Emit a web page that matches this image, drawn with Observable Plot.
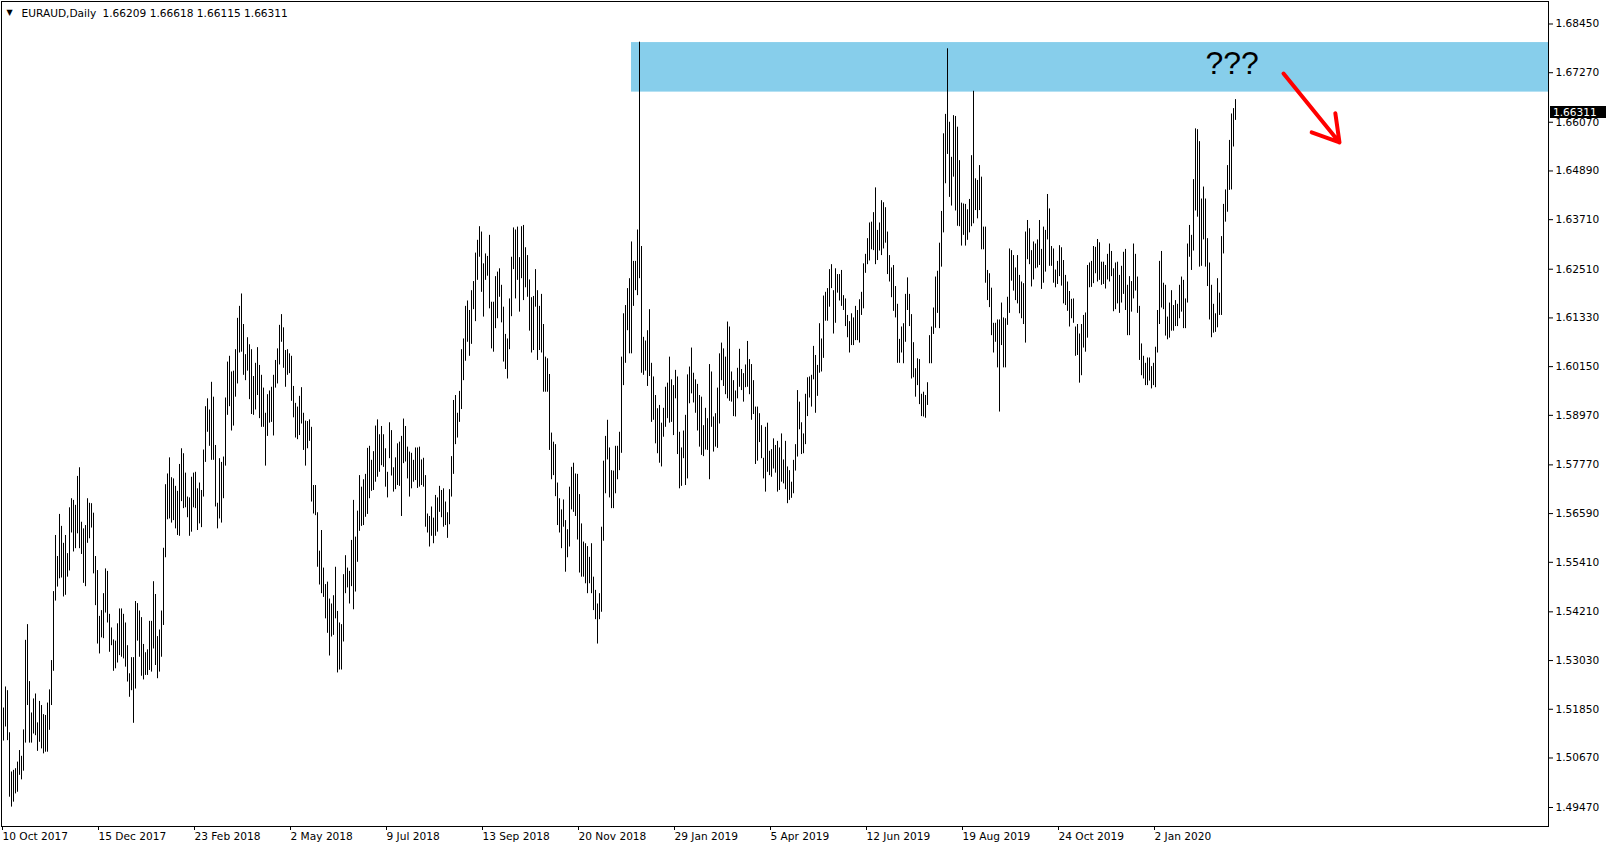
<!DOCTYPE html>
<html><head><meta charset="utf-8">
<script src="https://cdn.jsdelivr.net/npm/d3@7"></script>
<script src="https://cdn.jsdelivr.net/npm/@observablehq/plot@0.6"></script>
<style>
html,body{margin:0;padding:0;background:#fff;}
#chart{position:relative;width:1612px;height:850px;overflow:hidden;}
</style></head><body><div id="chart"></div>
<script>
// ---------- data ----------
const symbolLabel = "EURAUD,Daily";
const lastBarOHLC = [1.66209, 1.66618, 1.66115, 1.66311];

const high = [
1.5188,1.5239,1.5230,1.5128,1.5033,1.5037,1.5041,1.5057,1.5085,1.5071,
1.5135,1.5352,1.5390,1.5252,1.5176,1.5210,1.5222,1.5152,1.5204,1.5194,
1.5172,1.5170,1.5200,1.5232,1.5303,1.5470,1.5606,1.5555,1.5657,1.5628,
1.5587,1.5606,1.5562,1.5673,1.5695,1.5691,1.5679,1.5749,1.5770,1.5638,
1.5622,1.5630,1.5695,1.5684,1.5683,1.5660,1.5555,1.5521,1.5410,1.5424,
1.5465,1.5525,1.5519,1.5415,1.5382,1.5353,1.5350,1.5392,1.5428,1.5428,
1.5415,1.5394,1.5339,1.5271,1.5310,1.5310,1.5446,1.5441,1.5423,1.5407,
1.5342,1.5322,1.5329,1.5398,1.5398,1.5494,1.5463,1.5361,1.5377,1.5423,
1.5575,1.5729,1.5755,1.5794,1.5746,1.5743,1.5725,1.5713,1.5778,1.5816,
1.5804,1.5757,1.5699,1.5697,1.5747,1.5757,1.5759,1.5719,1.5733,1.5715,
1.5813,1.5918,1.5937,1.5910,1.5977,1.5941,1.5824,1.5684,1.5792,1.5783,
1.5796,1.5939,1.6026,1.6040,1.6002,1.6004,1.6056,1.6132,1.6161,1.6191,
1.6117,1.6044,1.6085,1.6068,1.6056,1.5991,1.6023,1.6061,1.6018,1.5994,
1.5963,1.5902,1.5947,1.5956,1.5965,1.5994,1.6030,1.6058,1.6115,1.6141,
1.6109,1.6054,1.6056,1.6046,1.6040,1.5967,1.5926,1.5917,1.5943,1.5964,
1.5902,1.5883,1.5882,1.5886,1.5868,1.5727,1.5727,1.5661,1.5568,1.5618,
1.5527,1.5487,1.5493,1.5452,1.5440,1.5460,1.5529,1.5422,1.5394,1.5390,
1.5511,1.5557,1.5527,1.5519,1.5594,1.5691,1.5602,1.5665,1.5751,1.5723,
1.5741,1.5754,1.5817,1.5822,1.5788,1.5809,1.5871,1.5886,1.5850,1.5870,
1.5850,1.5816,1.5759,1.5879,1.5860,1.5770,1.5794,1.5828,1.5832,1.5846,
1.5888,1.5870,1.5820,1.5808,1.5805,1.5788,1.5818,1.5818,1.5820,1.5789,
1.5793,1.5751,1.5658,1.5652,1.5675,1.5648,1.5703,1.5697,1.5725,1.5715,
1.5719,1.5687,1.5661,1.5717,1.5797,1.5933,1.5945,1.5902,1.5955,1.6056,
1.6082,1.6161,1.6174,1.6151,1.6199,1.6221,1.6290,1.6321,1.6354,1.6341,
1.6264,1.6288,1.6282,1.6333,1.6171,1.6171,1.6233,1.6244,1.6252,1.6212,
1.6159,1.6093,1.6082,1.6179,1.6280,1.6351,1.6346,1.6353,1.6279,1.6354,
1.6357,1.6303,1.6284,1.6225,1.6182,1.6185,1.6250,1.6199,1.6161,1.6190,
1.6117,1.6038,1.6034,1.5996,1.5854,1.5832,1.5826,1.5733,1.5695,1.5668,
1.5692,1.5642,1.5620,1.5723,1.5771,1.5781,1.5755,1.5754,1.5705,1.5634,
1.5590,1.5586,1.5579,1.5553,1.5586,1.5505,1.5473,1.5440,1.5465,1.5626,
1.5786,1.5846,1.5885,1.5818,1.5763,1.5762,1.5822,1.5822,1.5856,1.6038,
1.6143,1.6163,1.6204,1.6228,1.6317,1.6270,1.6270,1.6346,1.6801,1.6306,
1.6086,1.6077,1.6102,1.6153,1.6023,1.5990,1.5945,1.5913,1.5921,1.5878,
1.5914,1.5965,1.5975,1.6038,1.5983,1.5969,1.6006,1.5990,1.5856,1.5818,
1.5859,1.5897,1.5995,1.6014,1.6060,1.5999,1.5983,1.5972,1.5945,1.5941,
1.5872,1.5914,1.5889,1.6020,1.6002,1.5893,1.5901,1.5963,1.6046,1.6072,
1.6058,1.6038,1.6123,1.6111,1.6002,1.5981,1.5956,1.6011,1.6057,1.6008,
1.5998,1.6019,1.6076,1.6032,1.6020,1.5981,1.5917,1.5917,1.5901,1.5872,
1.5793,1.5868,1.5878,1.5810,1.5814,1.5840,1.5824,1.5834,1.5818,1.5852,
1.5789,1.5834,1.5772,1.5763,1.5735,1.5788,1.5826,1.5957,1.5929,1.5879,
1.5852,1.5948,1.5988,1.5990,1.5994,1.6064,1.6042,1.6018,1.6119,1.6082,
1.6186,1.6195,1.6204,1.6250,1.6262,1.6199,1.6252,1.6238,1.6238,1.6248,
1.6187,1.6179,1.6139,1.6124,1.6143,1.6133,1.6161,1.6151,1.6177,1.6195,
1.6264,1.6287,1.6325,1.6363,1.6365,1.6388,1.6448,1.6345,1.6363,1.6417,
1.6412,1.6400,1.6341,1.6284,1.6254,1.6260,1.6209,1.6166,1.6081,1.6111,
1.6119,1.6190,1.6230,1.6190,1.6141,1.6073,1.6010,1.6034,1.6032,1.5948,
1.5953,1.5945,1.5976,1.6090,1.6111,1.6157,1.6232,1.6246,1.6314,1.6391,
1.6579,1.6626,1.6785,1.6607,1.6522,1.6623,1.6621,1.6595,1.6514,1.6411,
1.6409,1.6408,1.6395,1.6420,1.6526,1.6682,1.6470,1.6466,1.6502,1.6474,
1.6353,1.6353,1.6248,1.6240,1.6205,1.6120,1.6120,1.6128,1.6128,1.6169,
1.6133,1.6131,1.6183,1.6300,1.6296,1.6284,1.6254,1.6284,1.6236,1.6220,
1.6216,1.6341,1.6369,1.6349,1.6296,1.6317,1.6312,1.6322,1.6369,1.6299,
1.6353,1.6345,1.6432,1.6397,1.6306,1.6300,1.6249,1.6270,1.6308,1.6303,
1.6272,1.6236,1.6220,1.6197,1.6178,1.6179,1.6111,1.6117,1.6094,1.6117,
1.6139,1.6145,1.6260,1.6266,1.6270,1.6306,1.6304,1.6323,1.6315,1.6268,
1.6268,1.6260,1.6287,1.6312,1.6294,1.6252,1.6266,1.6268,1.6236,1.6258,
1.6292,1.6299,1.6212,1.6233,1.6221,1.6312,1.6287,1.6232,1.6161,1.6070,
1.6040,1.6023,1.6036,1.6036,1.6015,1.6023,1.6062,1.6151,1.6270,1.6294,
1.6217,1.6212,1.6135,1.6169,1.6199,1.6163,1.6175,1.6166,1.6212,1.6232,
1.6224,1.6179,1.6312,1.6357,1.6333,1.6468,1.6591,1.6589,1.6560,1.6421,
1.6450,1.6421,1.6325,1.6266,1.6212,1.6166,1.6143,1.6228,1.6193,1.6330,
1.6408,1.6443,1.6502,1.6563,1.6627,1.6640,1.66618
];
const low = [
1.5108,1.5142,1.5109,1.4972,1.4948,1.4960,1.4980,1.4984,1.5025,1.5014,
1.5035,1.5103,1.5194,1.5103,1.5103,1.5125,1.5121,1.5083,1.5105,1.5089,
1.5077,1.5081,1.5081,1.5134,1.5194,1.5277,1.5447,1.5481,1.5501,1.5503,
1.5457,1.5461,1.5505,1.5520,1.5612,1.5566,1.5574,1.5610,1.5574,1.5560,
1.5490,1.5482,1.5587,1.5598,1.5624,1.5513,1.5436,1.5343,1.5319,1.5358,
1.5356,1.5418,1.5394,1.5323,1.5339,1.5277,1.5283,1.5297,1.5315,1.5311,
1.5307,1.5287,1.5251,1.5214,1.5230,1.5151,1.5234,1.5350,1.5311,1.5265,
1.5256,1.5267,1.5267,1.5279,1.5275,1.5331,1.5291,1.5259,1.5275,1.5311,
1.5388,1.5552,1.5644,1.5646,1.5636,1.5642,1.5622,1.5606,1.5604,1.5688,
1.5671,1.5673,1.5649,1.5604,1.5614,1.5673,1.5671,1.5618,1.5634,1.5625,
1.5699,1.5783,1.5856,1.5822,1.5788,1.5788,1.5675,1.5622,1.5646,1.5636,
1.5695,1.5774,1.5897,1.5918,1.5859,1.5871,1.5941,1.5973,1.6048,1.6050,
1.5994,1.5981,1.6004,1.5935,1.5899,1.5897,1.5910,1.5945,1.5889,1.5868,
1.5868,1.5774,1.5846,1.5878,1.5880,1.5847,1.5963,1.5973,1.6019,1.6074,
1.6011,1.5965,1.5994,1.5998,1.5931,1.5891,1.5842,1.5838,1.5848,1.5876,
1.5812,1.5774,1.5816,1.5834,1.5687,1.5658,1.5654,1.5529,1.5486,1.5465,
1.5456,1.5404,1.5369,1.5314,1.5360,1.5364,1.5404,1.5273,1.5280,1.5280,
1.5348,1.5465,1.5479,1.5440,1.5482,1.5426,1.5469,1.5541,1.5616,1.5628,
1.5630,1.5650,1.5657,1.5695,1.5713,1.5715,1.5735,1.5747,1.5759,1.5775,
1.5771,1.5723,1.5697,1.5792,1.5750,1.5711,1.5717,1.5727,1.5725,1.5652,
1.5780,1.5784,1.5743,1.5699,1.5719,1.5735,1.5739,1.5720,1.5723,1.5727,
1.5723,1.5626,1.5612,1.5578,1.5604,1.5586,1.5604,1.5614,1.5662,1.5649,
1.5626,1.5630,1.5599,1.5632,1.5699,1.5754,1.5826,1.5842,1.5880,1.5911,
1.5981,1.6028,1.6074,1.6040,1.6069,1.6153,1.6124,1.6224,1.6280,1.6195,
1.6135,1.6224,1.6234,1.6155,1.6058,1.6050,1.6107,1.6131,1.6183,1.6121,
1.6026,1.6008,1.5985,1.6056,1.6136,1.6250,1.6179,1.6224,1.6147,1.6228,
1.6175,1.6206,1.6183,1.6101,1.6048,1.6054,1.6159,1.6030,1.6054,1.6048,
1.5953,1.5953,1.5953,1.5812,1.5741,1.5751,1.5700,1.5630,1.5612,1.5574,
1.5626,1.5517,1.5552,1.5578,1.5668,1.5662,1.5652,1.5595,1.5515,1.5505,
1.5505,1.5489,1.5465,1.5489,1.5465,1.5424,1.5402,1.5343,1.5402,1.5420,
1.5592,1.5707,1.5789,1.5697,1.5671,1.5671,1.5707,1.5741,1.5763,1.5805,
1.5969,1.6023,1.6102,1.6046,1.6046,1.6161,1.6199,1.6187,1.6228,1.5999,
1.5994,1.6004,1.5967,1.5991,1.5880,1.5885,1.5828,1.5804,1.5781,1.5772,
1.5844,1.5868,1.5889,1.5878,1.5880,1.5848,1.5937,1.5802,1.5719,1.5725,
1.5792,1.5727,1.5743,1.5925,1.5949,1.5927,1.5902,1.5859,1.5820,1.5800,
1.5797,1.5813,1.5812,1.5741,1.5868,1.5808,1.5820,1.5817,1.5876,1.5981,
1.5967,1.5947,1.5937,1.5931,1.5929,1.5894,1.5893,1.5937,1.5965,1.5957,
1.5929,1.5964,1.5965,1.5947,1.5885,1.5899,1.5778,1.5786,1.5831,1.5792,
1.5743,1.5711,1.5759,1.5751,1.5747,1.5767,1.5757,1.5711,1.5715,1.5735,
1.5731,1.5717,1.5683,1.5691,1.5696,1.5707,1.5762,1.5796,1.5862,1.5802,
1.5804,1.5826,1.5894,1.5939,1.5917,1.5983,1.5902,1.5943,1.5999,1.6002,
1.6035,1.6125,1.6125,1.6159,1.6204,1.6094,1.6120,1.6193,1.6174,1.6161,
1.6151,1.6112,1.6085,1.6048,1.6066,1.6066,1.6078,1.6078,1.6072,1.6139,
1.6155,1.6241,1.6262,1.6271,1.6298,1.6296,1.6262,1.6272,1.6295,1.6284,
1.6300,1.6314,1.6238,1.6220,1.6182,1.6149,1.6133,1.6023,1.6023,1.6048,
1.6022,1.6074,1.6151,1.6112,1.5985,1.5988,1.5941,1.5969,1.5923,1.5894,
1.5893,1.5890,1.5921,1.6022,1.6022,1.6093,1.6108,1.6144,1.6107,1.6256,
1.6339,1.6458,1.6529,1.6425,1.6404,1.6474,1.6392,1.6355,1.6354,1.6307,
1.6333,1.6307,1.6321,1.6339,1.6354,1.6361,1.6393,1.6373,1.6393,1.6298,
1.6298,1.6217,1.6175,1.6158,1.6090,1.6048,1.6074,1.6012,1.5905,1.6066,
1.6012,1.6012,1.6115,1.6144,1.6222,1.6198,1.6175,1.6167,1.6143,1.6131,
1.6117,1.6072,1.6274,1.6262,1.6208,1.6225,1.6252,1.6254,1.6260,1.6202,
1.6217,1.6244,1.6322,1.6258,1.6258,1.6217,1.6206,1.6214,1.6233,1.6210,
1.6167,1.6163,1.6149,1.6111,1.6131,1.6120,1.6040,1.6042,1.5975,1.5993,
1.6060,1.6050,1.6084,1.6206,1.6207,1.6216,1.6240,1.6220,1.6224,1.6212,
1.6214,1.6203,1.6225,1.6220,1.6233,1.6148,1.6153,1.6167,1.6144,1.6169,
1.6190,1.6151,1.6090,1.6090,1.6147,1.6179,1.6198,1.6144,1.6030,1.5993,
1.5985,1.5969,1.5969,1.5980,1.5961,1.5969,1.5964,1.6048,1.6117,1.6157,
1.6153,1.6089,1.6080,1.6084,1.6101,1.6101,1.6112,1.6112,1.6131,1.6147,
1.6107,1.6107,1.6169,1.6280,1.6248,1.6295,1.6392,1.6377,1.6256,1.6258,
1.6322,1.6256,1.6209,1.6128,1.6085,1.6096,1.6098,1.6109,1.6139,1.6139,
1.6288,1.6365,1.6389,1.6442,1.6443,1.6547,1.66115
];

const dateTickIndex  = [0, 48, 96, 144, 192, 240, 288, 336, 384, 432, 480, 528, 576];
const dateTickLabels = ["10 Oct 2017","15 Dec 2017","23 Feb 2018","2 May 2018","9 Jul 2018","13 Sep 2018","20 Nov 2018","29 Jan 2019","5 Apr 2019","12 Jun 2019","19 Aug 2019","24 Oct 2019","2 Jan 2020"];
const priceTicks = [1.49470,1.50670,1.51850,1.53030,1.54210,1.55410,1.56590,1.57770,1.58970,1.60150,1.61330,1.62510,1.63710,1.64890,1.66070,1.67270,1.68450];

// annotations (bar index / price)
const zoneStartIndex = 314;
const zonePrices = [1.6680, 1.6800];
const noteText = "???";
const notePos = [601, 1.67227];
const arrowStart = [640, 1.6725];
const arrowEnd = [668, 1.6558];

// ---------- chart ----------
const W = 1612, H = 850;
const mL = 1, mR = 64, mT = 1, mB = 24;
const xDomain = [-1, 772.5];
const yDomain = [1.49010, 1.68995];
const font = "'DejaVu Sans', 'Liberation Sans', sans-serif";
const FS = 10.6;

const bars = high.map((h, i) => ({i, high: h, low: low[i]}));

const priceBox = (index, scales, values, dims) => {
  const y = Math.round(scales.y(lastBarOHLC[3]));
  const g = d3.create("svg:g");
  const x0 = dims.width - dims.marginRight + 2;
  g.append("rect").attr("x", x0).attr("y", y - 6).attr("width", 56).attr("height", 12).attr("fill", "#000");
  g.append("text").attr("x", x0 + 3).attr("y", y).attr("dy", "0.36em")
    .attr("text-anchor", "start").attr("fill", "#fff")
    .attr("font-size", FS).attr("font-family", font).text(lastBarOHLC[3].toFixed(5));
  return g.node();
};

const chart = Plot.plot({
  width: W, height: H,
  marginLeft: mL, marginRight: mR, marginTop: mT, marginBottom: mB,
  style: {fontFamily: font, fontSize: FS + "px", background: "#fff", color: "#000"},
  x: {type: "linear", domain: xDomain, axis: null},
  y: {type: "linear", domain: yDomain, axis: null},
  marks: [
    Plot.rect([0], {x1: zoneStartIndex, x2: xDomain[1], y1: zonePrices[0], y2: zonePrices[1], fill: "#87CEEB", inset: 0}),
    Plot.ruleX(bars, {x: "i", y1: "low", y2: "high", stroke: "#000", strokeWidth: 1}),
    Plot.frame({stroke: "#000", strokeWidth: 1}),
    Plot.axisY({anchor: "right", ticks: priceTicks, tickSize: 4, tickPadding: 3, tickFormat: d => d.toFixed(5), fontSize: FS, label: null}),
    Plot.axisX({anchor: "bottom", ticks: dateTickIndex, tickSize: 4, tickPadding: 2,
      tickFormat: d => dateTickLabels[dateTickIndex.indexOf(d)], textAnchor: "start", dx: -1, fontSize: FS, label: null}),
    Plot.text([noteText], {x: notePos[0], y: notePos[1], text: d => d, textAnchor: "start", lineAnchor: "bottom",
      fontSize: 32, fontFamily: "'Liberation Sans', Arial, sans-serif", fill: "#000"}),
    Plot.arrow([0], {x1: arrowStart[0], y1: arrowStart[1], x2: arrowEnd[0], y2: arrowEnd[1],
      stroke: "#ff0000", strokeWidth: 4, headLength: 12, headAngle: 62}),
    Plot.text(["▼"], {frameAnchor: "top-left", dx: 5, dy: 8, textAnchor: "start", lineAnchor: "top", fontSize: 8, fill: "#000"}),
    Plot.text([symbolLabel], {frameAnchor: "top-left", dx: 20, dy: 8, textAnchor: "start", lineAnchor: "top", fontSize: FS, fill: "#000"}),
    Plot.text([lastBarOHLC.map(v => v.toFixed(5)).join(" ")], {frameAnchor: "top-left", dx: 101, dy: 8, textAnchor: "start", lineAnchor: "top", fontSize: FS, fill: "#000"}),
    priceBox
  ]
});
document.getElementById("chart").appendChild(chart);
</script></body></html>
